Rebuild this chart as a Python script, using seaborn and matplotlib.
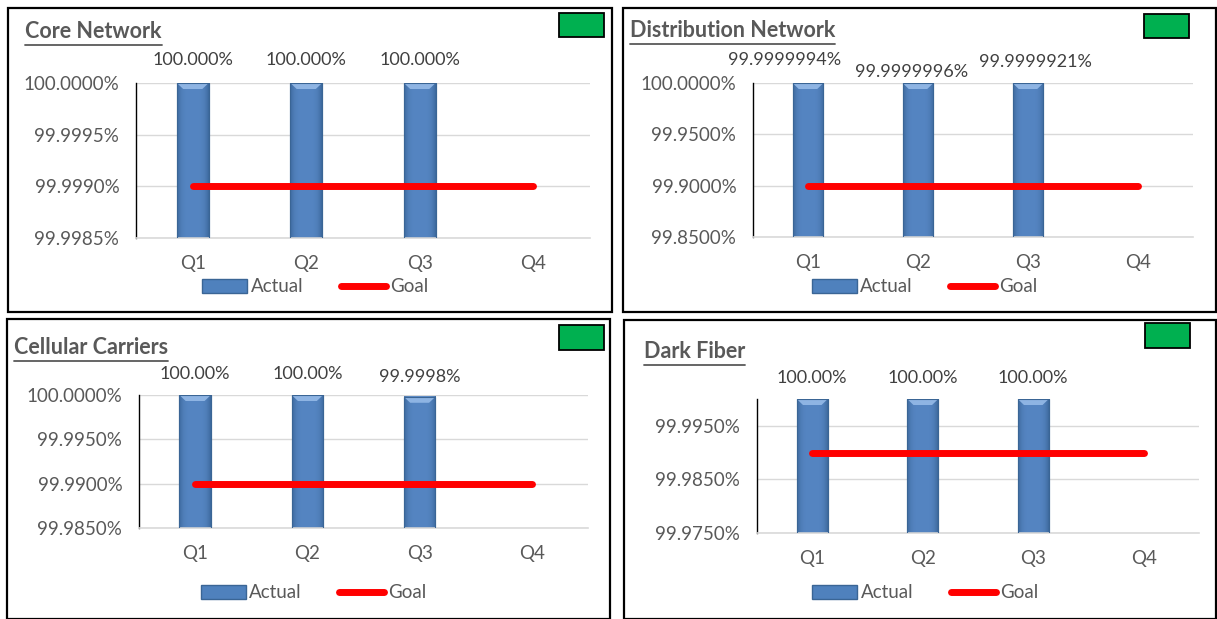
import numpy as np
import pandas as pd
import seaborn as sns
import matplotlib.pyplot as plt
from matplotlib.patches import Rectangle, Patch, Polygon
from matplotlib.lines import Line2D
from matplotlib.colors import to_rgb

quarters = ["Q1", "Q2", "Q3", "Q4"]

# Core Network
core_actual = [100.0, 100.0, 100.0]
core_labels = ["100.000%", "100.000%", "100.000%"]
core_goal = [99.999, 99.999, 99.999, 99.999]
core_ticks = [99.9985, 99.9990, 99.9995, 100.0]

# Distribution Network
dist_actual = [99.9999994, 99.9999996, 99.9999921]
dist_labels = ["99.9999994%", "99.9999996%", "99.9999921%"]
dist_goal = [99.9, 99.9, 99.9, 99.9]
dist_ticks = [99.85, 99.90, 99.95, 100.0]

# Cellular Carriers
cell_actual = [100.0, 100.0, 99.9998]
cell_labels = ["100.00%", "100.00%", "99.9998%"]
cell_goal = [99.99, 99.99, 99.99, 99.99]
cell_ticks = [99.985, 99.990, 99.995, 100.0]

# Dark Fiber
fiber_actual = [100.0, 100.0, 100.0]
fiber_labels = ["100.00%", "100.00%", "100.00%"]
fiber_goal = [99.99, 99.99, 99.99, 99.99]
fiber_ticks = [99.975, 99.985, 99.995]

W, H = 1217, 619
BLUE = "#4F81BD"
GREY = "#595959"

sns.set_style("white")
plt.rcParams["font.family"] = ["Lato", "DejaVu Sans"]

fig = plt.figure(figsize=(W / 100, H / 100), dpi=100)


def px_rect(x0, y0, x1, y1):
    return [x0 / W, 1 - y1 / H, (x1 - x0) / W, (y1 - y0) / H]


# horizontal shading for the bevelled Excel bars
dark = np.array(to_rgb("#3E6A9E"))
mid = np.array(to_rgb("#5585C2"))
u = np.linspace(-1, 1, 40)
wgt = np.clip(np.abs(u) ** 4, 0, 1)[:, None]
shade = (mid * (1 - wgt) + dark * wgt)[None, :, :]

panels = [
    dict(title="Core Network", actual=core_actual, labels=core_labels, goal=core_goal,
         ticks=core_ticks, ylim=(99.9985, 100.0), frame=(8, 8, 612, 312),
         axes=(136, 83, 590, 238), title_xy=(25, 38), green=(559, 13, 604, 37),
         legend_y=287, lab_dy=[23, 23, 23], lab_dx=[0, 0, 0]),
    dict(title="Distribution Network", actual=dist_actual, labels=dist_labels, goal=dist_goal,
         ticks=dist_ticks, ylim=(99.85, 100.0), frame=(623, 8, 1216, 312),
         axes=(753, 83, 1193, 237), title_xy=(630, 37), green=(1144, 14, 1189, 38),
         legend_y=287, lab_dy=[23, 11, 21], lab_dx=[-23, -6, 7]),
    dict(title="Cellular Carriers", actual=cell_actual, labels=cell_labels, goal=cell_goal,
         ticks=cell_ticks, ylim=(99.985, 100.0), frame=(7, 319, 610, 619),
         axes=(139, 395, 588, 528), title_xy=(14, 354), green=(559, 325, 604, 350),
         legend_y=593, lab_dy=[21, 21, 18], lab_dx=[0, 0, 0]),
    dict(title="Dark Fiber", actual=fiber_actual, labels=fiber_labels, goal=fiber_goal,
         ticks=fiber_ticks, ylim=(99.975, 100.0), frame=(624, 320, 1216, 619),
         axes=(757, 399, 1199, 533), title_xy=(644, 358), green=(1145, 323, 1190, 348),
         legend_y=593, lab_dy=[21, 21, 21], lab_dx=[0, 0, 0]),
]

renderer = fig.canvas.get_renderer()

for p in panels:
    # panel frame and green status box
    x0, y0, x1, y1 = p["frame"]
    fig.add_artist(Rectangle((x0 / W, 1 - y1 / H), (x1 - x0) / W, (y1 - y0) / H,
                             transform=fig.transFigure, fill=False, ec="black", lw=1.6))
    g = p["green"]
    fig.add_artist(Rectangle((g[0] / W, 1 - g[3] / H), (g[2] - g[0]) / W, (g[3] - g[1]) / H,
                             transform=fig.transFigure, fc="#00B050", ec="black", lw=1.3))

    ax = fig.add_axes(px_rect(*p["axes"]))
    df = pd.DataFrame({"quarter": quarters[:len(p["actual"])], "value": p["actual"]})
    sns.barplot(data=df, x="quarter", y="value", order=quarters, color=BLUE,
                saturation=1, width=0.28, edgecolor="#3A6595", linewidth=0.8,
                ax=ax, zorder=2)
    ax.plot(range(len(quarters)), p["goal"], color="#FF0000", lw=5,
            solid_capstyle="round", zorder=4)

    ax.set_xlim(-0.5, 3.5)
    ax.set_ylim(*p["ylim"])
    lo, hi = p["ylim"]
    ax_h = p["axes"][3] - p["axes"][1]
    px_y = (hi - lo) / ax_h

    # shading + light bevel on top of each bar
    for bar in list(ax.patches):
        bx, bw = bar.get_x(), bar.get_width()
        btop = min(bar.get_height(), hi)
        ax.imshow(shade, extent=(bx, bx + bw, lo, btop), aspect="auto",
                  zorder=2.5, interpolation="bilinear")
        bev = 6 * px_y
        inset = bw * 0.2
        ax.add_patch(Polygon([(bx, btop), (bx + bw, btop), (bx + bw - inset, btop - bev),
                              (bx + inset, btop - bev)], closed=True,
                             fc="#8EB4E3", ec="none", zorder=2.6))
        ax.add_patch(Rectangle((bx, lo), bw, btop - lo, fill=False, ec="#3A6595",
                               lw=0.8, zorder=2.7))

    ax.set_xlim(-0.5, 3.5)
    ax.set_ylim(*p["ylim"])
    ax.set_yticks(p["ticks"])
    ax.set_yticklabels([f"{t:.4f}%" for t in p["ticks"]])
    ax.set_xlabel("")
    ax.set_ylabel("")
    ax.grid(axis="y", color="#D9D9D9", lw=1, zorder=0)
    ax.set_axisbelow(True)
    for s in ["top", "right"]:
        ax.spines[s].set_visible(False)
    ax.spines["left"].set_color("black")
    ax.spines["left"].set_linewidth(1)
    ax.spines["bottom"].set_color("#D9D9D9")
    ax.spines["bottom"].set_linewidth(1.2)
    ax.tick_params(axis="y", length=0, pad=12, labelsize=13.5, labelcolor=GREY)
    ax.tick_params(axis="x", length=0, pad=12, labelsize=13.5, labelcolor=GREY)

    for i, lab in enumerate(p["labels"]):
        ax.annotate(lab, xy=(i, hi), xytext=(p["lab_dx"][i], p["lab_dy"][i]),
                    textcoords="offset pixels", ha="center", va="center",
                    fontsize=13, color="#404040", annotation_clip=False)

    # underlined title
    tx, ty = p["title_xy"]
    t = fig.text(tx / W, 1 - ty / H, p["title"], fontsize=15.5, fontweight="bold",
                 color=GREY, va="baseline", ha="left")
    bb = t.get_window_extent(renderer)
    uy = bb.y0 / H - 3 / H
    fig.add_artist(Line2D([bb.x0 / W, bb.x1 / W], [uy, uy], transform=fig.transFigure,
                          color=GREY, lw=1.3))

    # legend centred under the plot
    handles = [Patch(facecolor=BLUE, edgecolor="#3A6595", label="Actual"),
               Line2D([0], [0], color="#FF0000", lw=5, solid_capstyle="round", label="Goal")]
    cx = (x0 + x1) / 2 / W + 5 / W
    ax.legend(handles=handles, loc="center", bbox_to_anchor=(cx, 1 - p["legend_y"] / H),
              bbox_transform=fig.transFigure, ncol=2, frameon=False, fontsize=13.5,
              handlelength=2.4, handleheight=0.7, handletextpad=0.2, columnspacing=2.0,
              labelcolor=GREY)

fig.savefig("out.png", dpi=100)
